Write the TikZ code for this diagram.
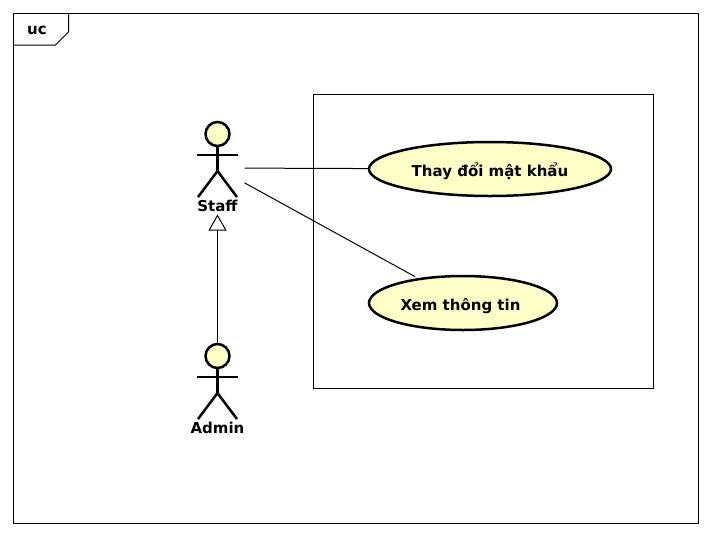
\documentclass[tikz,border=0pt]{standalone}
\usepackage{fontspec}
\setmainfont{DejaVu Sans}
\usetikzlibrary{shapes.geometric, arrows.meta}
\definecolor{ucfill}{HTML}{FFFFC8}
\tikzset{frameline/.style={draw=black, line width=1pt}}
\tikzset{usecase/.style={ellipse, draw=black, line width=2.5pt, fill=ucfill, inner sep=0pt, minimum height=54pt, text height=14pt, text depth=0pt, font=\bfseries\fontsize{15}{18}\selectfont}}
\tikzset{actorbox/.style={inner sep=0pt, outer sep=0pt, minimum width=54pt, minimum height=93pt}}
\tikzset{actorline/.style={black, line width=2.5pt}}
\tikzset{caption/.style={inner sep=0pt, font=\bfseries\fontsize{15}{18}\selectfont}}
\tikzset{assoc/.style={black, line width=1pt}}

\begin{document}
\begin{tikzpicture}[x=1pt,y=-1pt]
  \useasboundingbox (0,0) rectangle (712,536);
  % Frame
  \draw[frameline] (13.5,13.5) rectangle (698.5,523.5);
  \draw[frameline] (13.5,45) -- (55.5,45) -- (68.5,32) -- (68.5,13.5);
  \node[caption] (uc) at (37,30) {uc};
  % System box
  \draw[frameline] (313.5,94.5) rectangle (653.5,388.5);
  % Use cases
  \node[usecase, minimum width=242pt] (thay) at (490,169) {Thay đổi mật khẩu};
  \node[usecase, minimum width=188pt] (xem) at (463,303) {Xem thông tin\hspace*{5pt}};
  % Actors
  \foreach \name/\txt/\dy in {staff/Staff/0, admin/Admin/222} {
    \begin{scope}[yshift=-\dy pt]
      \node[actorbox] (\name) at (217.5,168) {};
      \draw[actorline, fill=ucfill] (217.5,134) circle (12pt);
      \draw[actorline] (217.5,146) -- (217.5,171);
      \draw[actorline] (197,155) -- (238,155);
      \draw[actorline] (198,197) -- (217.5,171) -- (237,197);
      \node[caption] (\name label) at (217.5,206) {\txt};
    \end{scope}
  }
  % Connectors
  \draw[assoc] (staff) -- (thay);
  \draw[assoc, shorten >=3pt] (staff) -- (xem);
  \draw[assoc, -{Triangle[open, length=16pt, width=18pt]}] (admin) -- (staff);
\end{tikzpicture}
\end{document}
